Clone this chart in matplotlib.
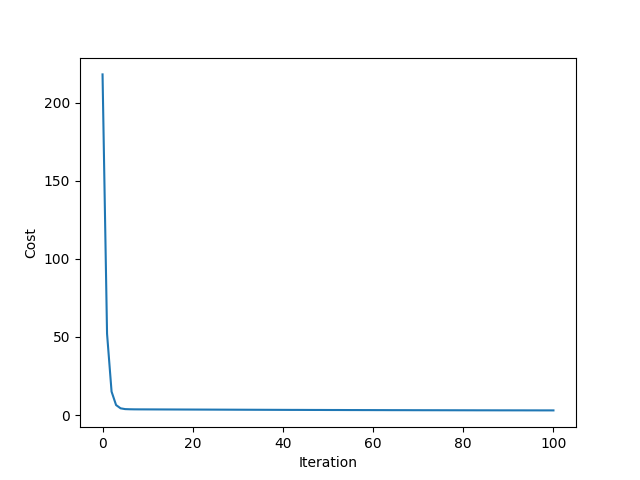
import matplotlib
matplotlib.use("Agg")
import matplotlib.pyplot as plt

# cost per iteration (iterations 0..100)
cost = [
    218.0, 52.0, 15.0, 6.4, 4.3, 3.8, 3.7, 3.65, 3.63, 3.62,
    3.61, 3.60, 3.59, 3.58, 3.57, 3.56, 3.55, 3.54, 3.53, 3.52,
    3.51, 3.50, 3.49, 3.48, 3.47, 3.46, 3.45, 3.44, 3.43, 3.42,
    3.41, 3.40, 3.39, 3.38, 3.37, 3.36, 3.35, 3.34, 3.33, 3.32,
    3.31, 3.30, 3.29, 3.29, 3.28, 3.27, 3.26, 3.25, 3.25, 3.24,
    3.23, 3.22, 3.22, 3.21, 3.20, 3.19, 3.19, 3.18, 3.17, 3.17,
    3.16, 3.15, 3.15, 3.14, 3.13, 3.13, 3.12, 3.12, 3.11, 3.10,
    3.10, 3.09, 3.09, 3.08, 3.08, 3.07, 3.07, 3.06, 3.06, 3.05,
    3.05, 3.04, 3.04, 3.03, 3.03, 3.03, 3.02, 3.02, 3.01, 3.01,
    3.01, 3.00, 3.00, 3.00, 2.99, 2.99, 2.99, 2.98, 2.98, 2.98,
    2.97,
]
iterations = list(range(len(cost)))

figure, axis = plt.subplots(figsize=(6.4, 4.8), dpi=100)
axis.plot(iterations, cost)
axis.set_xlabel("Iteration")
axis.set_ylabel("Cost")
figure.savefig("out.png")
